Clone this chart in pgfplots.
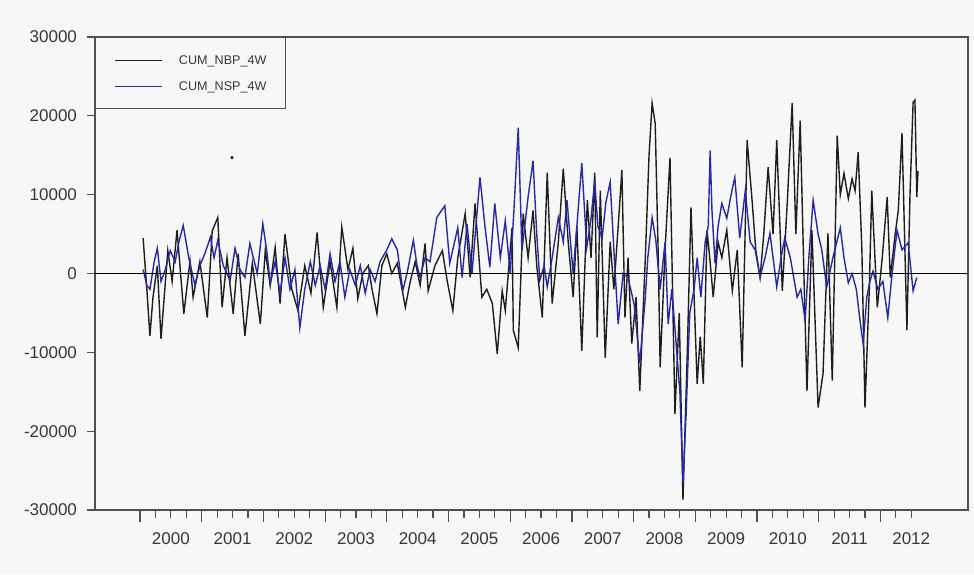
\documentclass[border=0pt]{standalone}
\usepackage{pgfplots}
\pgfplotsset{compat=1.18}
\usepackage{fontspec}
\setmainfont{Liberation Sans}

\definecolor{nbp}{RGB}{30,30,30}
\definecolor{nsp}{RGB}{40,40,170}
\definecolor{frame}{RGB}{80,80,80}
\definecolor{bg}{RGB}{247,247,247}
\definecolor{lbl}{RGB}{55,55,55}

\begin{document}
\begin{tikzpicture}
% page background
\fill[bg] (-47.5pt,-32pt) rectangle (439.5pt,255pt);
\path[use as bounding box] (-47.5pt,-32pt) rectangle (439.5pt,255pt);
\begin{axis}[
    scale only axis,
    width=436.5pt, height=236.5pt,
    xmin=1999.27, xmax=2013.42,
    ymin=-30000, ymax=30000,
    axis line style={frame, line width=0.6pt},
    every tick/.style={frame, line width=0.6pt},
    tick align=outside,
    xtick pos=bottom, ytick pos=left,
    major tick length=4pt,
    % quarterly ticks; the year names sit half a year right of the year start
    xtick={2000,2000.25,2000.5,2000.75,2001,2001.25,2001.5,2001.75,
           2002,2002.25,2002.5,2002.75,2003,2003.25,2003.5,2003.75,
           2004,2004.25,2004.5,2004.75,2005,2005.25,2005.5,2005.75,
           2006,2006.25,2006.5,2006.75,2007,2007.25,2007.5,2007.75,
           2008,2008.25,2008.5,2008.75,2009,2009.25,2009.5,2009.75,
           2010,2010.25,2010.5,2010.75,2011,2011.25,2011.5,2011.75,
           2012,2012.25,2012.5},
    xticklabels={2000,,,,2001,,,,2002,,,,2003,,,,2004,,,,2005,,,,2006,,,,
                 2007,,,,2008,,,,2009,,,,2010,,,,2011,,,,2012,,},
    xticklabel style={xshift=15.42pt, yshift=-4pt},
    % longer ticks at the year boundaries
    extra x ticks={2000,2001,2002,2003,2004,2005,2006,2007,2008,2009,2010,2011,2012},
    extra x tick labels={},
    extra x tick style={major tick length=6pt, grid=none},
    ytick={-30000,-20000,...,30000},
    scaled y ticks=false,
    /pgf/number format/1000 sep={},
    /pgf/number format/assume math mode=true,
    tick label style={font=\fontsize{8.5}{10}\selectfont, text=lbl},
    yticklabel style={xshift=-1.5pt},
    legend style={at={(0,1)}, anchor=north west, draw=frame, line width=0.6pt,
        fill=none, font=\fontsize{6.3}{7.5}\selectfont, text=lbl,
        inner xsep=7.5pt, inner ysep=6.7pt, row sep=3.8pt,
        nodes={inner sep=2pt, text height=4.6pt, text depth=0.6pt}},
    legend cell align=left,
    legend image code/.code={\path (0pt,0pt);
        \draw[#1, line width=0.7pt] (2pt,0pt) -- (25.5pt,0pt);
        \path (31.5pt,0pt);},
]
\addplot[nbp, line width=0.7pt] coordinates {
(2000.05,4500) (2000.11,-2000) (2000.16,-7900) (2000.21,-3000) (2000.28,1000)
(2000.34,-8300) (2000.45,2900) (2000.52,-1000) (2000.60,5500) (2000.71,-5100)
(2000.81,1600) (2000.86,-3000) (2000.97,1500) (2001.09,-5600) (2001.17,5400)
(2001.26,7100) (2001.33,-4300) (2001.41,2000) (2001.51,-5100) (2001.59,2500)
(2001.70,-7900) (2001.82,1300) (2001.95,-6400) (2002.03,2900) (2002.11,-1500)
(2002.19,3300) (2002.27,-3800) (2002.35,5000) (2002.46,-2000) (2002.56,-4700)
(2002.67,1000) (2002.77,-2500) (2002.87,5200) (2002.97,-4300) (2003.08,1500)
(2003.19,-4300) (2003.27,5900) (2003.37,500) (2003.45,3200) (2003.53,-3200)
(2003.61,0) (2003.70,1000) (2003.76,-2000) (2003.84,-5100) (2003.92,1000)
(2004.00,2500) (2004.08,0) (2004.17,1300) (2004.30,-4300) (2004.38,-1000)
(2004.46,1500) (2004.54,-1500) (2004.62,3800) (2004.67,-2200) (2004.78,1000)
(2004.90,2900) (2004.98,-1000) (2005.07,-4700) (2005.15,2000) (2005.27,7600)
(2005.35,-500) (2005.43,8900) (2005.54,-3000) (2005.62,-2000) (2005.71,-3800)
(2005.79,-10200) (2005.87,-2200) (2005.92,-4700) (2006.03,5800) (2006.05,-7200)
(2006.13,-9400) (2006.21,7600) (2006.29,2000) (2006.37,8000) (2006.43,1000)
(2006.52,-5600) (2006.60,12800) (2006.68,-3800) (2006.78,4000) (2006.86,13300)
(2006.94,4000) (2007.02,-3000) (2007.08,6000) (2007.16,-9800) (2007.25,9300)
(2007.31,2000) (2007.37,12800) (2007.41,-8100) (2007.46,10500) (2007.54,-10700)
(2007.62,4000) (2007.68,-2000) (2007.75,6000) (2007.81,13100) (2007.86,-5600)
(2007.91,2000) (2007.97,-8900) (2008.04,-3000) (2008.10,-14900) (2008.19,2000)
(2008.25,15000) (2008.30,21600) (2008.35,19000) (2008.40,2000) (2008.43,-11900)
(2008.51,3000) (2008.59,14700) (2008.67,-17800) (2008.74,-5000) (2008.80,-28700)
(2008.87,-10000) (2008.93,8400) (2009.03,-14000) (2009.08,-8000) (2009.13,-14000)
(2009.19,5500) (2009.24,1500) (2009.29,-3000) (2009.37,4000) (2009.43,2000)
(2009.51,5500) (2009.60,-2200) (2009.68,3000) (2009.76,-11900) (2009.84,16900)
(2009.92,9300) (2009.98,3000) (2010.05,-500) (2010.11,5000) (2010.18,13500)
(2010.26,5000) (2010.32,16900) (2010.41,-2200) (2010.49,8900) (2010.57,21600)
(2010.63,5000) (2010.70,19400) (2010.76,0) (2010.81,-14900) (2010.89,5500)
(2010.99,-17000) (2011.07,-12700) (2011.15,5100) (2011.22,-13600) (2011.30,17500)
(2011.35,10000) (2011.41,12700) (2011.48,9500) (2011.54,12000) (2011.59,10500)
(2011.64,15400) (2011.70,3000) (2011.75,-17000) (2011.82,-2000) (2011.86,10500)
(2011.95,-4300) (2012.03,2000) (2012.11,9700) (2012.16,-500) (2012.24,5000)
(2012.29,8000) (2012.35,17800) (2012.43,-7200) (2012.48,10000) (2012.53,21700)
(2012.56,22000) (2012.59,9700) (2012.61,13000)
};
\addlegendentry{CUM\_NBP\_4W}
\addplot[nsp, line width=0.7pt] coordinates {
(2000.05,500) (2000.11,-1500) (2000.16,-2000) (2000.23,1500) (2000.28,3200)
(2000.34,-1000) (2000.41,500) (2000.49,2900) (2000.57,1500) (2000.63,4000)
(2000.70,6100) (2000.79,2000) (2000.89,-1500) (2000.97,1000) (2001.05,2500)
(2001.14,4600) (2001.20,2000) (2001.26,4200) (2001.35,1000) (2001.46,-900)
(2001.54,3200) (2001.62,500) (2001.70,-500) (2001.78,3800) (2001.90,0)
(2001.99,6300) (2002.06,2500) (2002.11,-1300) (2002.19,1500) (2002.27,-2500)
(2002.35,2000) (2002.43,-2000) (2002.51,500) (2002.59,-6900) (2002.67,-2000)
(2002.76,1500) (2002.84,-1500) (2002.92,1000) (2003.00,-2000) (2003.08,2500)
(2003.16,-1000) (2003.24,1500) (2003.32,-3000) (2003.40,500) (2003.49,-1500)
(2003.57,1000) (2003.65,-2500) (2003.73,500) (2003.81,-1000) (2003.89,1500)
(2004.00,3000) (2004.08,4400) (2004.17,3000) (2004.26,-2200) (2004.34,500)
(2004.43,4200) (2004.49,1000) (2004.54,-500) (2004.62,2000) (2004.70,1500)
(2004.81,7100) (2004.94,8600) (2005.02,1300) (2005.15,5800) (2005.22,-500)
(2005.30,6300) (2005.38,0) (2005.51,12200) (2005.59,6000) (2005.67,800)
(2005.75,8900) (2005.84,2000) (2005.92,6700) (2006.00,0) (2006.06,8000)
(2006.13,18500) (2006.19,2900) (2006.29,9700) (2006.37,14300) (2006.43,5000)
(2006.48,-900) (2006.55,1000) (2006.60,-1700) (2006.68,2000) (2006.78,7100)
(2006.86,4000) (2006.92,9300) (2007.02,0) (2007.08,6000) (2007.16,14000)
(2007.24,3300) (2007.31,7000) (2007.37,11800) (2007.42,6000) (2007.49,4500)
(2007.55,9000) (2007.62,11600) (2007.68,3000) (2007.75,-6400) (2007.83,0)
(2007.91,-500) (2008.01,-4000) (2008.10,-11400) (2008.19,-3000) (2008.23,2000)
(2008.30,7100) (2008.36,4200) (2008.43,-2000) (2008.51,4000) (2008.56,-6400)
(2008.62,-2000) (2008.69,-9000) (2008.75,-15000) (2008.80,-26500) (2008.85,-18000)
(2008.91,-5000) (2008.98,-2000) (2009.03,2000) (2009.09,-3000) (2009.16,4000)
(2009.21,6000) (2009.24,15600) (2009.27,8000) (2009.32,1300) (2009.37,6000)
(2009.43,8900) (2009.51,7000) (2009.58,10000) (2009.64,12200) (2009.72,4500)
(2009.81,10500) (2009.89,4000) (2009.97,3000) (2010.05,-500) (2010.13,2000)
(2010.21,5100) (2010.32,-1700) (2010.39,2000) (2010.45,4500) (2010.54,2000)
(2010.65,-3000) (2010.71,-2000) (2010.78,-6000) (2010.84,2000) (2010.91,9300)
(2010.99,5000) (2011.05,3000) (2011.13,-1700) (2011.23,2000) (2011.35,5800)
(2011.41,2000) (2011.48,-1200) (2011.54,0) (2011.61,-2000) (2011.67,-6000)
(2011.72,-8900) (2011.78,-3000) (2011.83,-1000) (2011.88,300) (2011.96,-2000)
(2012.04,-1000) (2012.12,-5600) (2012.19,0) (2012.27,5500) (2012.35,3000)
(2012.45,3900) (2012.53,-2200) (2012.59,-500)
};
\addlegendentry{CUM\_NSP\_4W}
\addplot[nbp, only marks, mark=*, mark size=0.6pt, forget plot] coordinates {(2001.49,14700)};
\addplot[black, line width=0.6pt, forget plot] coordinates {(1999.27,0) (2013.42,0)};
\end{axis}
\end{tikzpicture}
\end{document}
